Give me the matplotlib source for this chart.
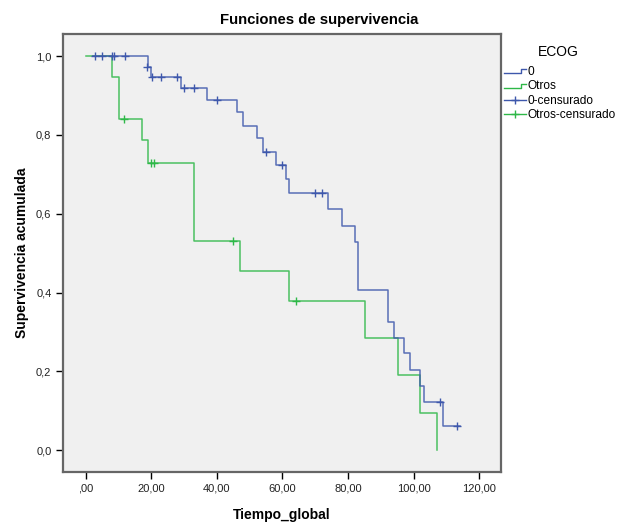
import matplotlib
matplotlib.use("Agg")
import matplotlib.pyplot as plt
from matplotlib.lines import Line2D
from matplotlib.legend_handler import HandlerBase

plt.rcParams['font.family'] = ['Liberation Sans', 'DejaVu Sans']

# grupo ECOG 0
t_cero = [2.4, 19.1, 19.9, 29.0, 36.9, 46.0, 47.9, 52.1, 54.0, 58.0, 61.1, 62.0,
          74.0, 78.0, 82.1, 82.9, 92.1, 94.1, 97.0, 99.0, 102.0, 103.0, 109.0, 114.0]
s_cero = [1.0, 0.973, 0.948, 0.920, 0.889, 0.859, 0.823, 0.792, 0.758, 0.724, 0.688, 0.652,
          0.611, 0.570, 0.528, 0.408, 0.326, 0.284, 0.246, 0.204, 0.163, 0.122, 0.0615, 0.0615]
cens_t_cero = [2.9, 4.9, 7.9, 8.8, 12.1, 18.8, 20.1, 22.9, 27.9, 30.0, 33.0, 40.0,
               54.9, 60.0, 70.0, 72.0, 108.0, 113.1]
cens_s_cero = [1.0, 1.0, 1.0, 1.0, 1.0, 0.973, 0.948, 0.948, 0.948, 0.920, 0.920, 0.889,
               0.758, 0.724, 0.652, 0.652, 0.122, 0.0615]

# grupo Otros
t_otros = [0.0, 7.9, 10.2, 17.1, 19.1, 33.0, 47.0, 62.1, 85.0, 95.1, 102.0, 107.0]
s_otros = [1.0, 0.946, 0.840, 0.787, 0.728, 0.531, 0.455, 0.379, 0.284, 0.190, 0.095, 0.0]
cens_t_otros = [11.8, 19.8, 20.8, 45.0, 64.0]
cens_s_otros = [0.840, 0.728, 0.728, 0.531, 0.379]

xticks = [0, 20, 40, 60, 80, 100, 120]
xlabels = [',00', '20,00', '40,00', '60,00', '80,00', '100,00', '120,00']
yticks = [0.0, 0.2, 0.4, 0.6, 0.8, 1.0]
ylabels = ['0,0', '0,2', '0,4', '0,6', '0,8', '1,0']

AZUL = '#3E58AC'
VERDE = '#2EB848'


class StepHandler(HandlerBase):
    # icono escalonado como en SPSS
    def create_artists(self, legend, orig_handle, xdescent, ydescent,
                       width, height, fontsize, trans):
        x0 = -xdescent
        xs = [x0, x0 + 0.75 * width, x0 + 0.75 * width, x0 + width]
        lo = -ydescent + 0.2 * height
        hi = -ydescent + 0.7 * height
        ys = [lo, lo, hi, hi]
        ln = Line2D(xs, ys, color=orig_handle.get_color(), lw=1.0, transform=trans)
        return [ln]


fig = plt.figure(figsize=(6.33, 5.24), dpi=100)
ax = fig.add_axes([0.1, 0.0992, 0.6915, 0.8358])
ax.set_facecolor('#F0F0F0')

ax.step(t_otros, s_otros, where='post', color=VERDE, lw=1.1, alpha=0.85)
ax.step(t_cero, s_cero, where='post', color=AZUL, lw=1.1, alpha=0.85)
ax.plot(cens_t_otros, cens_s_otros, ls='none', marker='+', ms=6, mew=1.0, color=VERDE)
ax.plot(cens_t_cero, cens_s_cero, ls='none', marker='+', ms=6, mew=1.0, color=AZUL)

ax.set_xlim(-6.8, 126.6)
ax.set_ylim(-0.055, 1.056)
ax.set_xticks(xticks)
ax.set_xticklabels(xlabels)
ax.set_yticks(yticks)
ax.set_yticklabels(ylabels)
ax.tick_params(direction='out', length=5, width=1, labelsize=8, colors='black',
               labelcolor='#222222')
for sp in ax.spines.values():
    sp.set_color('#666666')
    sp.set_linewidth(1.6)

ax.set_xlabel('Tiempo_global', fontsize=10, fontweight='bold', labelpad=10)
ax.set_ylabel('Supervivencia acumulada', fontsize=10, fontweight='bold', labelpad=5)
fig.text(0.505, 0.962, 'Funciones de supervivencia', ha='center', va='center',
         fontsize=10.7, fontweight='bold')

fig.text(558 / 633, 1 - 52 / 524, 'ECOG', ha='center', va='center', fontsize=10)
h_cero = Line2D([], [], color=AZUL)
h_otros = Line2D([], [], color=VERDE)
h_cc = Line2D([], [], color=AZUL, marker='+', ms=6, mew=1.0, lw=1.0)
h_co = Line2D([], [], color=VERDE, marker='+', ms=6, mew=1.0, lw=1.0)
leg = fig.legend([h_cero, h_otros, h_cc, h_co], ['0', 'Otros', '0-censurado', 'Otros-censurado'],
                 loc='upper left', bbox_to_anchor=(503.5 / 633, 1 - 66 / 524), frameon=False,
                 fontsize=8.6, handlelength=1.9, borderpad=0, borderaxespad=0,
                 handletextpad=0.15, labelspacing=0.2, numpoints=1,
                 handler_map={h_cero: StepHandler(), h_otros: StepHandler()})

fig.savefig('out.png', dpi=100, facecolor='white')
